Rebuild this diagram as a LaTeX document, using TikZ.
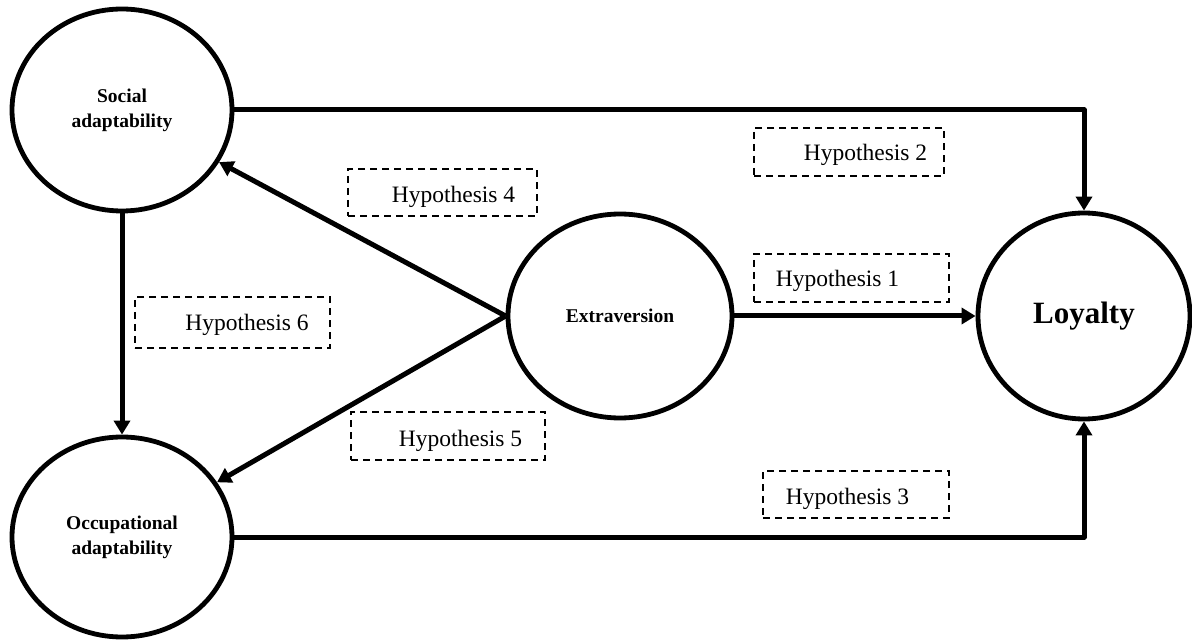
\documentclass[tikz,border=0pt]{standalone}
\usepackage{fontspec}
\setmainfont{Liberation Serif}
\usetikzlibrary{shapes.geometric,arrows.meta}
\begin{document}
\begin{tikzpicture}[x=1pt,y=-1pt,
  construct/.style={ellipse, draw=black, line width=4.8pt, inner sep=0pt, align=center,
    font=\fontsize{19.5}{25}\selectfont\bfseries},
  conn/.style={line width=5pt, line join=round, -{Triangle[length=14pt,width=16pt]}},
  hypbox/.style={draw=black, line width=2.3pt, dash pattern=on 7pt off 5pt, inner sep=0pt},
  hyptext/.style={anchor=base, inner sep=0pt, font=\fontsize{23.5}{28}\selectfont}
]
\useasboundingbox (0,0) rectangle (1192,644);

% constructs
\node[construct, minimum width=220pt, minimum height=202pt] (soc) at (122,110) {Social\\adaptability};
\node[construct, minimum width=220pt, minimum height=200pt] (occ) at (122,537) {Occupational\\adaptability};
\node[construct, minimum width=224pt, minimum height=204pt] (ext) at (620,316) {Extraversion};
\node[construct, minimum width=212pt, minimum height=206pt, font=\fontsize{31}{36}\selectfont\bfseries] (loy) at (1084,316) {Loyalty};

% connectors
\draw[conn] (soc.east) -| (loy.north);
\draw[conn] (ext.east) -- (loy.west);
\draw[conn] (occ.east) -| (loy.south);
\draw[conn] (ext.west) -- (soc);
\draw[conn] (ext.west) -- (occ);
\draw[conn] (soc.south) -- (occ.north);

% hypothesis boxes
\node[hypbox, minimum width=190pt, minimum height=48pt] (b2) at (849,152) {};
\node[hyptext] (h2) at (865.5,161) {Hypothesis 2};
\node[hypbox, minimum width=195pt, minimum height=48pt] (b1) at (851.5,278) {};
\node[hyptext] (h1) at (837.5,287) {Hypothesis 1};
\node[hypbox, minimum width=186pt, minimum height=47pt] (b3) at (856,494.5) {};
\node[hyptext] (h3) at (847.5,504) {Hypothesis 3};
\node[hypbox, minimum width=189pt, minimum height=47pt] (b4) at (442.5,192.5) {};
\node[hyptext] (h4) at (453.5,203) {Hypothesis 4};
\node[hypbox, minimum width=195pt, minimum height=51pt] (b6) at (232.5,322.5) {};
\node[hyptext] (h6) at (247,331) {Hypothesis 6};
\node[hypbox, minimum width=194pt, minimum height=48pt] (b5) at (448,436) {};
\node[hyptext] (h5) at (460.5,446) {Hypothesis 5};
\end{tikzpicture}
\end{document}
